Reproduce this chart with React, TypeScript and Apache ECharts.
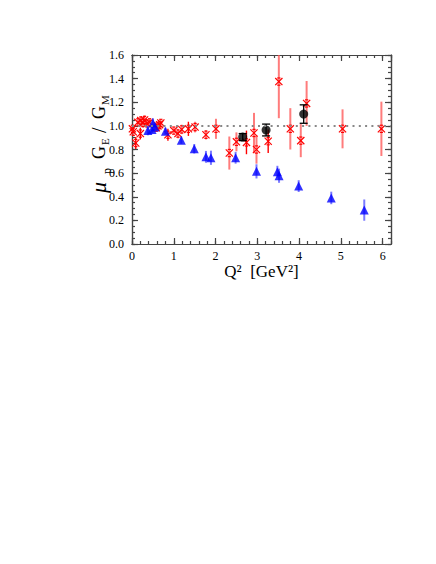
import React, { useEffect, useRef } from 'react';
import * as echarts from 'echarts';

// Q^2 [GeV^2], mu_p GE/GM, error  (red crosses, light error bars)
const redLight: number[][] = [
  [0.01, 0.975, 0.03], [0.03, 0.95, 0.03], [0.14, 1.03, 0.03], [0.21, 1.045, 0.035],
  [0.26, 1.025, 0.04], [0.3, 1.05, 0.04], [0.36, 1.02, 0.03], [0.42, 1.03, 0.03],
  [0.58, 0.985, 0.03], [0.62, 1.0, 0.03], [0.66, 1.01, 0.03], [0.69, 1.025, 0.02],
  [1.0, 0.96, 0.03], [1.1, 0.935, 0.04], [1.19, 0.97, 0.04], [1.51, 0.99, 0.045],
  [1.77, 0.925, 0.04], [2.01, 0.975, 0.085], [2.33, 0.77, 0.14], [2.5, 0.865, 0.08],
  [2.92, 0.94, 0.17], [2.98, 0.80, 0.12], [3.515, 1.375, 0.31], [3.79, 0.975, 0.175],
  [4.04, 0.875, 0.14], [4.18, 1.19, 0.19], [5.04, 0.975, 0.165], [5.97, 0.975, 0.23],
];
// red crosses with solid red error bars
const redDark: number[][] = [
  [0.09, 0.855, 0.05], [0.2, 0.935, 0.05], [0.86, 0.925, 0.05], [1.35, 0.975, 0.06],
  [2.74, 0.86, 0.1], [3.26, 0.87, 0.1],
];
// blue triangles
const bluePoints: number[][] = [
  [0.38, 0.96, 0.04], [0.48, 0.97, 0.03], [0.5, 1.025, 0.04], [0.55, 0.99, 0.03],
  [0.8, 0.955, 0.03], [1.18, 0.878, 0.03], [1.49, 0.806, 0.04], [1.77, 0.738, 0.05],
  [1.89, 0.73, 0.06], [2.48, 0.73, 0.05], [2.98, 0.615, 0.06], [3.48, 0.612, 0.05],
  [3.52, 0.578, 0.06], [3.99, 0.49, 0.05], [4.77, 0.39, 0.053], [5.56, 0.287, 0.09],
];
// black circles
const blackPoints: number[][] = [
  [2.65, 0.905, 0.03], [3.21, 0.965, 0.05], [4.11, 1.1, 0.078],
];
const refLine: number[][] = [[0, 1], [6.2, 1]];

const X_MIN = 0, X_MAX = 6.2, Y_MIN = 0, Y_MAX = 1.6;
const FONT = 'Liberation Serif';

function makeErr(color: string, width: number, marker: 'cross' | 'none', caps: boolean) {
  return (params: any, api: any) => {
    const x = api.value(0), y = api.value(1), e = api.value(2);
    const p = api.coord([x, y]);
    const t = api.coord([x, Math.min(y + e, Y_MAX)]);
    const b = api.coord([x, Math.max(y - e, Y_MIN)]);
    const children: any[] = [];
    if (width > 0) {
      children.push({ type: 'line', shape: { x1: p[0], y1: t[1], x2: p[0], y2: b[1] }, style: { stroke: color, lineWidth: width } });
    }
    if (caps) {
      children.push(
        { type: 'line', shape: { x1: p[0] - 4, y1: t[1], x2: p[0] + 4, y2: t[1] }, style: { stroke: color, lineWidth: 1.3 } },
        { type: 'line', shape: { x1: p[0] - 4, y1: b[1], x2: p[0] + 4, y2: b[1] }, style: { stroke: color, lineWidth: 1.3 } },
      );
    }
    if (marker === 'cross') {
      const s = 3.6, c = '#ff0000', w = 1.2, h = s * 0.45;
      children.push(
        { type: 'line', shape: { x1: p[0] - s, y1: p[1] - s, x2: p[0] + s, y2: p[1] + s }, style: { stroke: c, lineWidth: w } },
        { type: 'line', shape: { x1: p[0] + s, y1: p[1] - s, x2: p[0] - s, y2: p[1] + s }, style: { stroke: c, lineWidth: w } },
        { type: 'line', shape: { x1: p[0] - h, y1: p[1] - s, x2: p[0] + h, y2: p[1] - s }, style: { stroke: c, lineWidth: w } },
        { type: 'line', shape: { x1: p[0] - h, y1: p[1] + s, x2: p[0] + h, y2: p[1] + s }, style: { stroke: c, lineWidth: w } },
      );
    }
    return { type: 'group', children };
  };
}

const lineStyle = { color: '#444', width: 1.2 };

function xAx(position: 'bottom' | 'top', interval: number, len: number, labels: boolean, name?: string) {
  return {
    type: 'value', position, min: X_MIN, max: X_MAX, interval,
    axisLine: { show: true, onZero: false, lineStyle },
    axisTick: { show: true, inside: true, length: len, lineStyle },
    splitLine: { show: false },
    axisLabel: labels
      ? { show: true, margin: 6, color: '#000', fontFamily: FONT, fontSize: 12, showMaxLabel: false }
      : { show: false },
    name: name || '',
    nameLocation: 'middle',
    nameGap: 18,
    nameTextStyle: { color: '#000', fontFamily: FONT, fontSize: 17 },
  };
}
function yAx(position: 'left' | 'right', interval: number, len: number, labels: boolean) {
  return {
    type: 'value', position, min: Y_MIN, max: Y_MAX, interval,
    axisLine: { show: true, onZero: false, lineStyle },
    axisTick: { show: true, inside: true, length: len, lineStyle },
    splitLine: { show: false },
    axisLabel: labels
      ? { show: true, margin: 8, color: '#000', fontFamily: FONT, fontSize: 12, formatter: (v: number) => v.toFixed(1) }
      : { show: false },
  };
}

export default function App() {
  const ref = useRef<HTMLDivElement>(null);
  useEffect(() => {
    const chart = echarts.init(ref.current!, null, { renderer: 'svg' });
    const txt = (text: string, x: number, y: number, size: number, italic = false) => ({
      type: 'text',
      style: { text, x, y, fontSize: size, fontFamily: FONT, fontStyle: italic ? 'italic' : 'normal', fill: '#000', textAlign: 'left', textVerticalAlign: 'middle' },
    });
    chart.setOption({
      animation: false,
      backgroundColor: '#fff',
      grid: { left: 132, top: 55, width: 259, height: 189, containLabel: false },
      xAxis: [
        xAx('bottom', 1, 6, true, 'Q²  [GeV²]'),
        xAx('bottom', 0.2, 3, false),
        xAx('top', 1, 6, false),
        xAx('top', 0.2, 3, false),
      ],
      yAxis: [
        yAx('left', 0.2, 6, true),
        yAx('left', 0.05, 3, false),
        yAx('right', 0.2, 6, false),
        yAx('right', 0.05, 3, false),
      ],
      graphic: [
        {
          type: 'group', x: 99, y: 143, rotation: Math.PI / 2,
          children: [
            txt('μ', -50, -1, 22, true),
            txt('p', -31, 8, 12),
            txt('G', -16, 0, 18),
            txt('E', -2, 6, 11),
            txt('/', 10, 0, 20),
            txt('G', 24, 0, 18),
            txt('M', 38, 6, 11),
          ],
        },
      ],
      series: [
        {
          type: 'line', data: refLine, symbol: 'none', silent: true,
          lineStyle: { color: '#888', width: 2, type: [2, 4.3] },
        },
        {
          type: 'custom', data: redLight, encode: { x: 0, y: 1 },
          renderItem: makeErr('rgba(255,80,80,0.75)', 2, 'none', false),
        },
        {
          type: 'custom', data: redDark, encode: { x: 0, y: 1 },
          renderItem: makeErr('#ff0000', 1.4, 'none', false),
        },
        {
          type: 'custom', data: redLight, encode: { x: 0, y: 1 },
          renderItem: makeErr('#000', 0, 'cross', false),
        },
        {
          type: 'custom', data: redDark, encode: { x: 0, y: 1 },
          renderItem: makeErr('#000', 0, 'cross', false),
        },
        {
          type: 'custom', data: bluePoints, encode: { x: 0, y: 1 },
          renderItem: makeErr('rgba(90,90,255,0.8)', 2, 'none', false),
        },
        {
          type: 'scatter', data: bluePoints.map((d) => [d[0], d[1]]), symbol: 'triangle', symbolSize: 9,
          itemStyle: { color: '#0000ff' },
        },
        {
          type: 'custom', data: blackPoints, encode: { x: 0, y: 1 },
          renderItem: makeErr('#000', 1.3, 'none', true),
        },
        {
          type: 'scatter', data: blackPoints.map((d) => [d[0], d[1]]), symbol: 'circle', symbolSize: 9,
          itemStyle: { color: '#000' },
        },
      ],
    });
    return () => chart.dispose();
  }, []);
  return <div ref={ref} style={{ position: 'absolute', left: 0, top: 0, width: 436, height: 564, background: '#fff' }} />;
}
